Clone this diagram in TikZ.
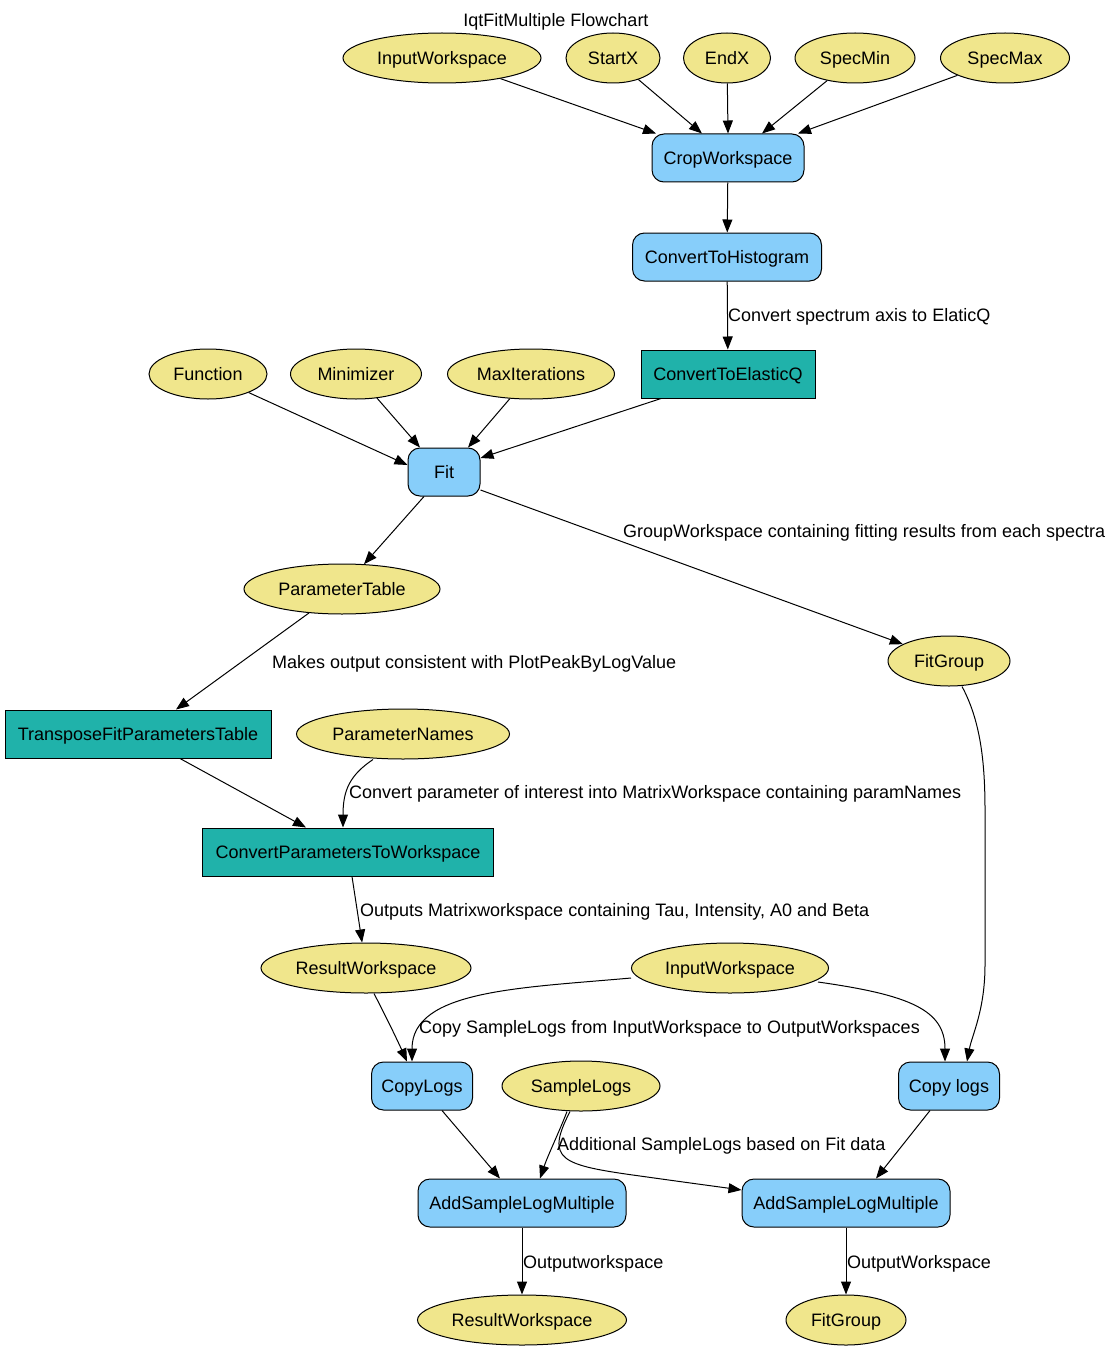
\documentclass[tikz,border=0pt]{standalone}
\usepackage{fontspec}
\setmainfont{Liberation Sans}
\usetikzlibrary{shapes.geometric,arrows.meta,calc}
\definecolor{khaki}{HTML}{F0E68C}
\definecolor{skyb}{HTML}{87CEFA}
\definecolor{seag}{HTML}{20B2AA}
\begin{document}
\begin{tikzpicture}[x=1pt,y=-1pt,
  font=\fontsize{18}{22}\selectfont,
  every node/.style={inner sep=0pt,text height=14pt,text depth=1pt},
  prop/.style={ellipse,draw,line width=1pt,fill=khaki,minimum height=50pt},
  alg/.style={rectangle,rounded corners=12pt,draw,line width=1pt,fill=skyb,minimum height=48pt},
  sub/.style={rectangle,draw,line width=1pt,fill=seag,minimum height=48pt},
  arr/.style={line width=1pt,-{Triangle[length=13pt,width=10pt]}},
  lbl/.style={anchor=west}]
\useasboundingbox[fill=white] (0,0) rectangle (1113,1351);
\node (title) at (556,20) {IqtFitMultiple Flowchart};
% top inputs
\node[prop,minimum width=198pt] (in1) at (442,58) {InputWorkspace};
\node[prop,minimum width=94pt] (startx) at (613,58) {StartX};
\node[prop,minimum width=87pt] (endx) at (727,58) {EndX};
\node[prop,minimum width=120pt] (specmin) at (855,58) {SpecMin};
\node[prop,minimum width=129pt] (specmax) at (1005,58) {SpecMax};
\node[alg,minimum width=152pt] (crop) at (728,158) {CropWorkspace};
\node[alg,minimum width=189pt] (hist) at (727,257) {ConvertToHistogram};
\node[sub,minimum width=174pt] (elq) at (728,374) {ConvertToElasticQ};
\node[prop,minimum width=118pt] (func) at (208,374) {Function};
\node[prop,minimum width=131pt] (mini) at (356,374) {Minimizer};
\node[prop,minimum width=167pt] (maxit) at (531,374) {MaxIterations};
\node[alg,minimum width=72pt] (fit) at (444,472) {Fit};
\node[prop,minimum width=196pt] (ptable) at (342,589) {ParameterTable};
\node[prop,minimum width=122pt] (fg1) at (949,661) {FitGroup};
\node[sub,minimum width=266pt] (trans) at (138,734) {TransposeFitParametersTable};
\node[prop,minimum width=213pt] (pnames) at (403,734) {ParameterNames};
\node[sub,minimum width=291pt] (cptw) at (348,852) {ConvertParametersToWorkspace};
\node[prop,minimum width=210pt] (rw1) at (366,968) {ResultWorkspace};
\node[prop,minimum width=197pt] (in2) at (730,968) {InputWorkspace};
\node[alg,minimum width=101pt] (copy1) at (422,1086) {CopyLogs};
\node[prop,minimum width=158pt] (slogs) at (581,1086) {SampleLogs};
\node[alg,minimum width=101pt] (copy2) at (949,1086) {Copy logs};
\node[alg,minimum width=208pt] (aslm1) at (522,1203) {AddSampleLogMultiple};
\node[alg,minimum width=208pt] (aslm2) at (846,1203) {AddSampleLogMultiple};
\node[prop,minimum width=209pt] (rw2) at (522,1320) {ResultWorkspace};
\node[prop,minimum width=120pt] (fg2) at (846,1320) {FitGroup};
% labels
\node[lbl] (l1) at (728,315) {Convert spectrum axis to ElaticQ};
\node[lbl] (l2) at (623,531) {GroupWorkspace containing fitting results from each spectra};
\node[lbl] (l3) at (272,662) {Makes output consistent with PlotPeakByLogValue};
\node[lbl] (l4) at (349,792) {Convert parameter of interest into MatrixWorkspace containing paramNames};
\node[lbl] (l5) at (360,910) {Outputs Matrixworkspace containing Tau, Intensity, A0 and Beta};
\node[lbl] (l6) at (419,1027) {Copy SampleLogs from InputWorkspace to OutputWorkspaces};
\node[lbl] (l7) at (557,1144) {Additional SampleLogs based on Fit data};
\node[lbl] (l8) at (523,1262) {Outputworkspace};
\node[lbl] (l9) at (847,1262) {OutputWorkspace};
% edges
\draw[arr] (in1) -- ([xshift=-72pt]crop.north);
\draw[arr] (startx) -- ([xshift=-26pt]crop.north);
\draw[arr] (endx) -- (crop.north);
\draw[arr] (specmin) -- ([xshift=34pt]crop.north);
\draw[arr] (specmax) -- ([xshift=70pt]crop.north);
\draw[arr] (crop) -- (hist);
\draw[arr] (hist) -- (elq);
\draw[arr] (func) -- ([yshift=7pt]fit.west);
\draw[arr] (mini) -- ([xshift=-24pt]fit.north);
\draw[arr] (maxit) -- ([xshift=24pt]fit.north);
\draw[arr] ([xshift=-67pt]elq.south) -- ([yshift=14pt]fit.east);
\draw[arr] ([xshift=-20pt]fit.south) -- (ptable);
\draw[arr] ([yshift=-18pt]fit.east) -- (fg1);
\draw[arr] (ptable) -- ([xshift=38pt]trans.north);
\draw[arr] ([xshift=42pt]trans.south) -- ([xshift=-42pt]cptw.north);
\draw[arr] ([xshift=-30pt]pnames.south) .. controls (350,775) and (343,790) .. ([xshift=-5pt]cptw.north);
\draw[arr] ([xshift=4pt]cptw.south) -- (rw1);
\draw[arr] ([xshift=13pt]fg1.south) .. controls (980,720) and (985,760) .. (985,810) -- (985,965) .. controls (985,1010) and (972,1035) .. ([xshift=18pt]copy2.north);
\draw[arr] ([xshift=8pt]rw1.south) .. controls (385,1015) and (395,1035) .. ([xshift=-15pt]copy1.north);
\draw[arr] ([yshift=-10pt]in2.west) .. controls (520,988) and (412,990) .. ([xshift=-10pt]copy1.north);
\draw[arr] ([xshift=88pt,yshift=-14pt]in2.center) .. controls (910,995) and (945,1010) .. ([xshift=-4pt]copy2.north);
\draw[arr] ([xshift=20pt]copy1.south) -- ([xshift=-22pt]aslm1.north);
\draw[arr] ([xshift=-14pt]slogs.south) .. controls (560,1130) and (548,1155) .. ([xshift=18pt]aslm1.north);
\draw[arr] ([xshift=-11pt]slogs.south) .. controls (545,1160) and (560,1165) .. (640,1176) .. controls (690,1183) and (720,1187) .. ([yshift=13pt]aslm2.west);
\draw[arr] ([xshift=-19pt]copy2.south) -- ([xshift=30pt]aslm2.north);
\draw[arr] (aslm1) -- (rw2);
\draw[arr] (aslm2) -- (fg2);
\end{tikzpicture}
\end{document}
